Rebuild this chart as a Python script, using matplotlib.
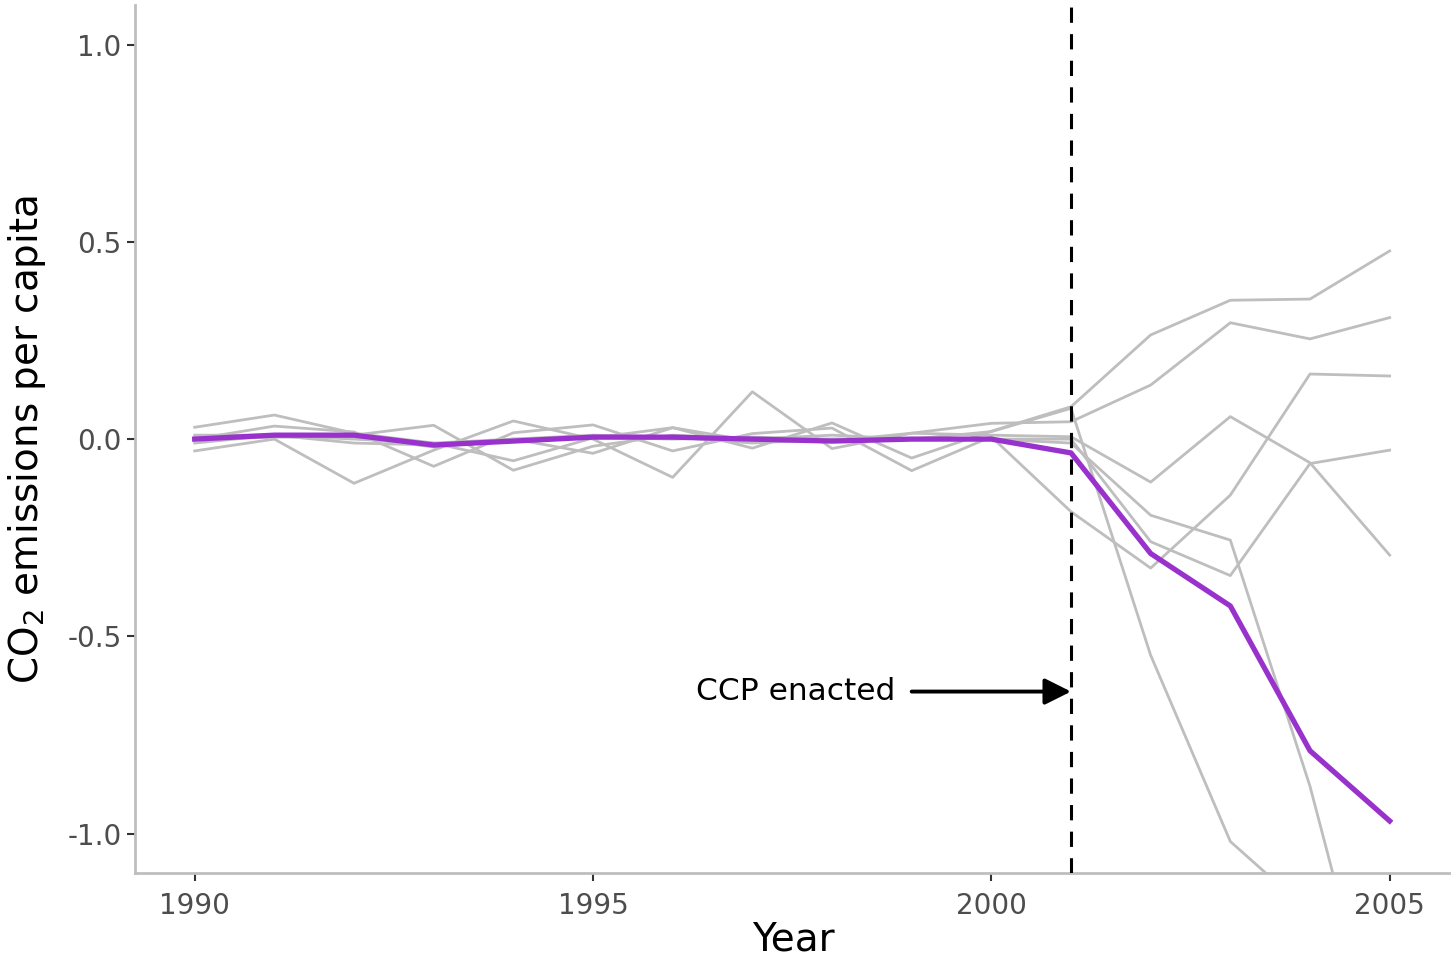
import numpy as np
import matplotlib
matplotlib.use('Agg')
import matplotlib.pyplot as plt

plt.rcParams['font.family'] = ['DejaVu Sans']
plt.rcParams['mathtext.default'] = 'regular'

years = np.arange(1990, 2006)
policy_year = 2001

# treated unit
treated = [0.0, 0.01, 0.01, -0.015, -0.005, 0.005, 0.005, 0.0, -0.005, 0.0, 0.0,
           -0.035, -0.29, -0.423, -0.79, -0.968]

# comparison units
donors = [
    [0.03, 0.061, 0.015, -0.01, -0.055, 0.003, 0.029, -0.023, 0.041, -0.048, 0.02,
     0.082, 0.264, 0.352, 0.355, 0.477],
    [-0.03, 0.0, -0.112, -0.028, 0.046, 0.0, -0.097, 0.12, -0.024, 0.015, 0.04,
     0.044, 0.137, 0.295, 0.254, 0.308],
    [0.0, 0.033, 0.018, -0.069, 0.016, 0.036, -0.03, 0.014, 0.028, -0.08, 0.006,
     -0.184, -0.327, -0.142, 0.165, 0.16],
    [0.01, 0.01, 0.01, 0.035, -0.079, -0.018, 0.01, 0.0, 0.01, 0.0, 0.0,
     0.0, -0.26, -0.346, -0.062, -0.028],
    [-0.01, 0.01, -0.01, -0.015, 0.0, -0.036, 0.029, -0.005, -0.005, 0.015, 0.01,
     0.006, -0.109, 0.057, -0.06, -0.294],
    [0.0, 0.005, 0.005, -0.02, 0.0, 0.005, 0.0, 0.005, 0.0, 0.0, 0.019,
     0.078, -0.548, -1.02, -1.2, -1.35],
    [0.005, 0.01, 0.0, -0.01, 0.0, 0.01, 0.005, -0.01, 0.0, 0.0, 0.0,
     -0.01, -0.193, -0.256, -0.88, -1.65],
]

fig = plt.figure(figsize=(14.51, 9.60), dpi=100)
ax = fig.add_axes([0.093, 0.0906, 0.907, 0.904])

for d in donors:
    ax.plot(years, d, color='#bebebe', lw=2.0, zorder=2)
ax.plot(years, treated, color='#9932cc', lw=3.8, zorder=3)

ax.axvline(policy_year, color='black', lw=2.2, dashes=(5, 3.7), zorder=4)

ax.annotate('', xy=(policy_year, -0.64), xytext=(1999.0, -0.64),
            arrowprops=dict(arrowstyle='-|>', color='black', lw=2.8,
                            mutation_scale=40, shrinkA=0, shrinkB=0),
            zorder=5)
ax.text(1998.8, -0.64, 'CCP enacted', ha='right', va='center', fontsize=22.5,
        color='black')

ax.set_xlim(1989.25, 2005.77)
ax.set_ylim(-1.10, 1.10)
ax.set_xticks([1990, 1995, 2000, 2005])
ax.set_yticks([1.0, 0.5, 0.0, -0.5, -1.0])
ax.set_yticklabels(['1.0', '0.5', '0.0', '-0.5', '-1.0'])
ax.tick_params(axis='both', colors='#333333', labelcolor='#4d4d4d',
               labelsize=20, length=6, width=1.5)
ax.tick_params(axis='x', pad=8)

ax.set_xlabel('Year', fontsize=28, labelpad=0)
ax.set_ylabel('CO$_2$ emissions per capita', fontsize=28, labelpad=14)

for side in ['top', 'right']:
    ax.spines[side].set_visible(False)
for side in ['left', 'bottom']:
    ax.spines[side].set_color('#bebebe')
    ax.spines[side].set_linewidth(2.0)

fig.savefig('out.png', dpi=100)
